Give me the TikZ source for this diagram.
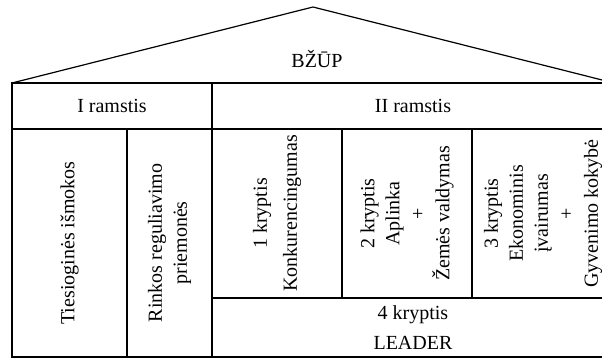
\documentclass[tikz,border=0pt]{standalone}
\usepackage{fontspec}
\setmainfont{Liberation Serif}
\usepackage{tikz}
\usetikzlibrary{positioning}
\tikzset{
  basic/.style  = {draw, line width=0.6pt, inner sep=0pt, align=center, font=\fontsize{10}{12.5}\selectfont},
  head/.style   = {basic, minimum height=23pt},
  pillar/.style = {basic, rotate=90, minimum width=114pt},
  dir/.style    = {basic, rotate=90, minimum width=84.5pt},
  roomy/.style  = {font=\fontsize{10}{15}\selectfont}
}
\begin{document}
\begin{tikzpicture}[x=0.5pt, y=-0.5pt]

% page frame, the house runs on past the right edge
\clip (0,0) rectangle (602,358);

% roof
\coordinate (eaveL) at (12,83);
\coordinate (apex) at (313,7);
\coordinate (eaveR) at (614,83);
\draw[line width=0.6pt] (eaveL) -- (apex) -- (eaveR);
\node[font=\fontsize{10}{12.5}\selectfont] (cap) at (317,59) {BŽŪP};

% the two pillars
\node[head, minimum width=100pt] (p1) at (112,106) {I ramstis};
\node[head, minimum width=201pt] (p2) at (413,106) {II ramstis};

% first pillar
\node[pillar, minimum height=57.5pt] (p11) at (69.5,243) {Tiesioginės išmokos};
\node[pillar, minimum height=42.5pt] (p12) at (169.5,243) {Rinkos reguliavimo\\priemonės};

% second pillar, directions 1 to 3
\node[dir, roomy, minimum height=65pt] (d1) at (277,213.5) {1 kryptis\\Konkurencingumas};
\node[dir, minimum height=65pt] (d2) at (407,213.5) {2 kryptis\\Aplinka\\+\\Žemės valdymas};
\node[dir, minimum height=71pt] (d3) at (543,213.5) {3 kryptis\\Ekonominis\\įvairumas\\+\\Gyvenimo kokybė};

% direction 4 along the bottom
\node[basic, roomy, minimum width=201pt, minimum height=29.5pt] (d4) at (413,327.5) {4 kryptis\\LEADER};

\end{tikzpicture}
\end{document}
